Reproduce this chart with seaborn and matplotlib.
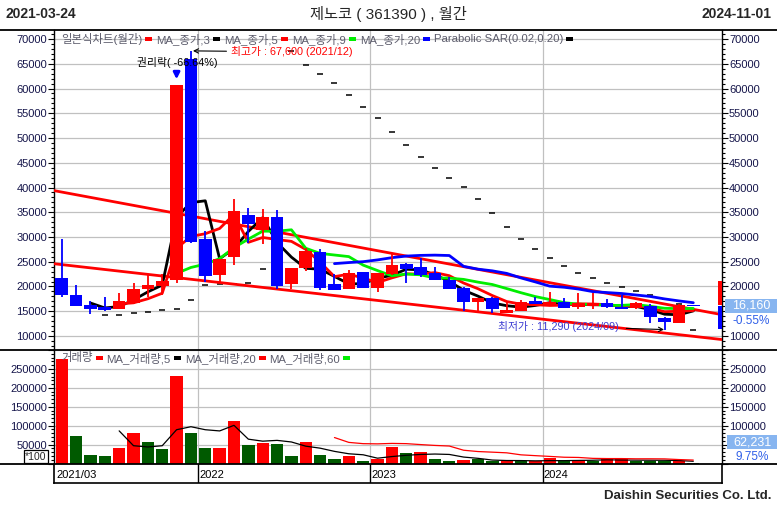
import numpy as np
import pandas as pd
import matplotlib
matplotlib.use("Agg")
import matplotlib.pyplot as plt
import matplotlib.ticker as mticker
from matplotlib.lines import Line2D
from matplotlib.patches import Rectangle
import seaborn as sns

W, H = 777, 508

# monthly candles 2021/03 .. 2024/11
months = [p.strftime("%Y/%m") for p in pd.period_range("2021-03", "2024-11", freq="M")]
opens = [21700, 18300, 16300, 15800, 15500, 16600, 19500, 20000, 21300, 65900,
         29500, 22300, 26000, 34450, 31400, 34100, 20450, 23800, 27050, 20450,
         19450, 22850, 19750, 22500, 24550, 23900, 22650, 21300, 19650, 16800,
         17600, 14700, 15100, 17050, 16150, 16950, 15800, 16000, 16600, 15950,
         15600, 16050, 13700, 12600, 16250]
highs = [29600, 20300, 17100, 17900, 18750, 20700, 22500, 22600, 60700, 67600,
         31200, 25600, 37700, 35900, 35650, 35450, 23700, 27850, 27500, 22450,
         23350, 22900, 22700, 26500, 24700, 25800, 24000, 21850, 19950, 17700,
         17950, 16800, 17250, 17950, 18900, 17600, 18600, 18600, 17400, 18300,
         16900, 16450, 13750, 16450, 16300]
lows = [17800, 16100, 14400, 15100, 15400, 16500, 17950, 18200, 20800, 28800,
        21000, 21000, 24300, 28700, 28600, 19400, 19400, 23150, 19300, 19250,
        19400, 19700, 18800, 22400, 20650, 22000, 21250, 19450, 15050, 15050,
        14600, 14650, 15050, 16400, 16000, 15700, 15400, 15400, 15600, 15400,
        15400, 12550, 11290, 12550, 16100]
closes = [18350, 16150, 15500, 15350, 17000, 19500, 20250, 21100, 60700, 29050,
          22200, 25550, 35250, 32550, 33950, 20150, 23700, 27150, 19650, 19300,
          22650, 19750, 22650, 24350, 23450, 22300, 21300, 19500, 16950, 17700,
          15400, 15250, 16800, 16450, 16950, 15700, 16600, 16600, 15800, 15550,
          16600, 13800, 12800, 16250, 16160]
sar = [np.nan, np.nan, np.nan, 14180, 14180, 14580, 14780, 15180, 15450, 17270,
       20300, 20450, 20550, 20640, 23470, 24900, 67600, 64750, 62930, 61170,
       58690, 56260, 53970, 51150, 48590, 46100, 43880, 41860, 40040, 37610,
       34790, 31960, 29560, 27520, 25700, 24140, 22670, 21660, 20650, 19840,
       19030, 18280, 17400, 16460, 11290]
volumes = [276500, 73200, 22000, 19400, 40600, 80300, 56500, 38200, 231400, 80300,
           40600, 40600, 112000, 48500, 53800, 51200, 19400, 56500, 22000, 11400,
           19400, 6100, 11400, 43500, 28100, 30800, 11400, 6100, 8750, 11400,
           7900, 5300, 5300, 5300, 14000, 7900, 7900, 7900, 11400, 10600,
           6900, 6900, 6900, 7900, 1000]
vol_dir = list("RGGGRRGGRGGRRGRGGRGGRGRRGRGGRGGRGRRGRGRRGGGRG")

# trend channel (value at left edge, value at right edge)
trend_x = [-0.54, 46.0]
trend_upper = [39370, 14310]
trend_lower = [24600, 9280]
range_red = [16300, 21100]
range_blue = [11400, 16100]

vol_last = 62231
vol_change_label = "9.75%"

RED = "#ff0000"
BLUE = "#0000ff"
GREEN = "#00ee00"
VGREEN = "#005a00"
GRID = "#c0c0c0"
TICKC = "#15154a"
LEG = "#5c5c6c"

df = pd.DataFrame(dict(month=months, open=opens, high=highs, low=lows,
                       close=closes, volume=volumes, sar=sar))
df["x"] = np.arange(len(df))
for n in (3, 5, 9, 20):
    df[f"ma{n}"] = df["close"].rolling(n).mean()
for n in (5, 20, 60):
    df[f"vma{n}"] = df["volume"].rolling(n).mean()

sns.set_theme(style="white")
plt.rcParams["font.family"] = ["Liberation Sans", "Noto Sans CJK KR", "DejaVu Sans"]
plt.rcParams["axes.unicode_minus"] = False


def fx(px):
    return px / W


def fy(py):
    return 1 - py / H


fig = plt.figure(figsize=(W / 100, H / 100), dpi=100)
fig.patch.set_facecolor("white")

L, R = 54, 722
ax_p = fig.add_axes([fx(L), fy(350), fx(R) - fx(L), fy(30) - fy(350)])
ax_v = fig.add_axes([fx(L), fy(463.5), fx(R) - fx(L), fy(350) - fy(463.5)], sharex=ax_p)
ax_d = fig.add_axes([fx(L), fy(483), fx(R) - fx(L), fy(463.5) - fy(483)], sharex=ax_p)

ax_p.set_xlim(-0.54, 46.0)
ax_p.set_ylim(7170, 71820)
ax_v.set_ylim(0, 300400)

year_starts = df.index[df["month"].str.endswith("/01")]
bounds = [i - 0.5 for i in year_starts]

# ---- price panel
for b in bounds:
    ax_p.axvline(b, color=GRID, lw=0.9, zorder=0)
    ax_v.axvline(b, color=GRID, lw=0.9, zorder=0)

up = df["close"] >= df["open"]
ccol = np.where(up, RED, BLUE)
sns.scatterplot(data=df, x="x", y="sar", marker="_", s=22, color="black",
                linewidth=1.1, ax=ax_p, zorder=2, legend=False)
ax_p.plot(trend_x, trend_upper, color=RED, lw=2.0, zorder=3)
ax_p.plot(trend_x, trend_lower, color=RED, lw=2.0, zorder=3)
for col, c in (("ma3", "black"), ("ma5", RED), ("ma9", GREEN), ("ma20", BLUE)):
    sns.lineplot(data=df, x="x", y=col, color=c, lw=2.0, ax=ax_p, zorder=3, legend=False)
ax_p.vlines(df["x"], df["low"], df["high"], colors=ccol, lw=1.3, zorder=5)
body_lo = np.minimum(df["open"], df["close"])
body_h = np.maximum((df["close"] - df["open"]).abs(), 120)
ax_p.bar(df["x"], body_h, bottom=body_lo, width=0.88, color=ccol, lw=0, zorder=5)

ax_p.bar([45.87], [range_red[1] - range_red[0]], bottom=range_red[0], width=0.26, color=RED, lw=0, zorder=6)
ax_p.bar([45.87], [range_blue[1] - range_blue[0]], bottom=range_blue[0], width=0.26, color=BLUE, lw=0, zorder=6)

ax_p.annotate("", xy=(8, 61300), xytext=(8, 64000),
              arrowprops=dict(arrowstyle="-|>", color=BLUE, lw=2, mutation_scale=9), zorder=7)
ax_p.text(8.05, 65350, "권리락( -66.64%)", fontsize=7.8, color="black",
          ha="center", va="center", zorder=7)
ax_p.annotate("최고가 : 67,600 (2021/12)", xy=(9.14, 67600), xytext=(11.8, 67400),
              fontsize=7.8, color=RED, ha="left", va="center", zorder=7,
              arrowprops=dict(arrowstyle="->", color="black", lw=0.8, shrinkA=1, shrinkB=0))
ax_p.annotate("최저가 : 11,290 (2024/09)", xy=(41.96, 11300), xytext=(30.4, 11950),
              fontsize=7.8, color="#3c3cd2", ha="left", va="center", zorder=7,
              arrowprops=dict(arrowstyle="->", color="black", lw=0.8, shrinkA=3, shrinkB=0))

# ---- volume panel
vcol = [RED if d == "R" else VGREEN for d in vol_dir]
ax_v.bar(df["x"], df["volume"], width=0.86, color=vcol, lw=0, zorder=3)
sns.lineplot(data=df, x="x", y="vma5", color="black", lw=0.9, ax=ax_v, zorder=4, legend=False)
sns.lineplot(data=df, x="x", y="vma20", color=RED, lw=0.9, ax=ax_v, zorder=4, legend=False)

# ---- value boxes on the right axis: centre pixel heights
chg = (closes[-1] - closes[-2]) / closes[-2] * 100
yp = ax_p.transData.transform((0, closes[-1]))[1]
yv = ax_v.transData.transform((0, vol_last))[1] - 2.5


def covered(ax, yc):
    # hide the right-hand labels that the value box sits on top of
    def f(v, p):
        yy = ax.transData.transform((0, v))[1]
        return "" if yc - 27 < yy < yc + 12 else None
    return f


# ---- axes styling
for ax, major, minor, yc in ((ax_p, 5000, 1000, yp), (ax_v, 50000, 10000, yv)):
    ax.set_xlabel("")
    ax.set_ylabel("")
    ax.set_facecolor("white")
    ax.grid(axis="y", which="major", color=GRID, lw=0.9, zorder=0)
    ax.set_axisbelow(True)
    ax.tick_params(axis="x", bottom=False, labelbottom=False)
    for s in ("top", "bottom"):
        ax.spines[s].set_visible(False)
    for s in ("left", "right"):
        ax.spines[s].set_color("black")
        ax.spines[s].set_linewidth(1.0)
    tw = ax.twinx()
    tw.set_ylim(ax.get_ylim())
    tw.patch.set_visible(False)
    for s in tw.spines.values():
        s.set_visible(False)
    tw.grid(False)
    base = (lambda v: f"{int(v)}") if ax is ax_p else \
        (lambda v: "" if v <= 0 or v >= 300000 else f"{int(v)}")
    hide = covered(ax, yc)
    for a, fmt in ((ax, lambda v, p, b=base: b(v)),
                   (tw, lambda v, p, b=base, h=hide: "" if h(v, p) == "" else b(v))):
        a.yaxis.set_major_locator(mticker.MultipleLocator(major))
        a.yaxis.set_minor_locator(mticker.MultipleLocator(minor))
        a.yaxis.set_major_formatter(mticker.FuncFormatter(fmt))
        a.tick_params(axis="y", which="both", direction="out", color="black",
                      labelcolor=TICKC, labelsize=8, pad=1, width=0.8)
        a.tick_params(axis="y", which="major", length=4)
        a.tick_params(axis="y", which="minor", length=2)
    ax.tick_params(axis="y", which="both", left=True, right=False, labelleft=True, labelright=False)
    tw.tick_params(axis="y", which="both", left=False, right=True, labelleft=False, labelright=True)

# ---- date panel
ax_d.set_ylim(0, 1)
ax_d.set_yticks([])
ax_d.tick_params(axis="x", bottom=False, labelbottom=False)
ax_d.spines["top"].set_visible(False)
for s in ("left", "bottom", "right"):
    ax_d.spines[s].set_color("black")
    ax_d.spines[s].set_linewidth(1.2)
ax_d.text(-0.4, 0.42, months[0], fontsize=8, color="black", ha="left", va="center")
for b in bounds:
    ax_d.axvline(b, color="black", lw=1.0)
    ax_d.text(b + 0.07, 0.42, months[int(b + 0.5)][:4], fontsize=8, color="black",
              ha="left", va="center")

# ---- frame lines
for yy in (30, 350, 463.5):
    fig.add_artist(Line2D([0, 1], [fy(yy), fy(yy)], color="black", lw=1.3,
                          transform=fig.transFigure))

# ---- header / footer
fig.text(fx(5), fy(14), "2021-03-24", fontsize=10, weight="bold", ha="left", va="center")
fig.text(fx(772), fy(14), "2024-11-01", fontsize=10, weight="bold", ha="right", va="center")
fig.text(fx(388), fy(14), "제노코 ( 361390 ) , 월간", fontsize=11, ha="center", va="center")
fig.text(fx(772), fy(496), "Daishin Securities Co. Ltd.", fontsize=9.5, weight="bold",
         ha="right", va="center")
fig.text(fx(36), fy(456.5), "*100", fontsize=7.5, ha="center", va="center",
         bbox=dict(boxstyle="square,pad=0.12", fc="white", ec="black", lw=0.9))


def value_box(yc, label, pct, x0):
    fig.add_artist(Rectangle((fx(x0), (yc - 7) / H), (W - x0) / W, 14 / H,
                             transform=fig.transFigure, fc="#87b5f0", ec="none", zorder=5))
    fig.text(fx((x0 + W) / 2), yc / H, label, fontsize=9, color="white",
             ha="center", va="center", zorder=6)
    fig.text(fx((x0 + W) / 2), (yc - 15) / H, pct, fontsize=8.5, color="#2f5fe8",
             ha="center", va="center", zorder=6)


value_box(yp, f"{closes[-1]:,}", f"{chg:.2f}%", 725)
value_box(yv, f"{vol_last:,}", vol_change_label, 727)

# ---- legends
price_legend = [("일본식차트(월간)", RED), ("MA_종가,3", "black"), ("MA_종가,5", RED),
                ("MA_종가,9", GREEN), ("MA_종가,20", BLUE),
                ("Parabolic SAR(0.02,0.20)", "black")]
vol_legend = [("거래량", RED), ("MA_거래량,5", "black"), ("MA_거래량,20", RED),
              ("MA_거래량,60", GREEN)]

renderer = fig.canvas.get_renderer()


def legend_row(items, x, y):
    for label, color in items:
        t = fig.text(fx(x), fy(y), label, fontsize=8.2, color=LEG, ha="left", va="center")
        bb = t.get_window_extent(renderer)
        x = bb.x1 + 3
        fig.add_artist(Rectangle((fx(x), fy(y + 2)), 7 / W, 4 / H,
                                 transform=fig.transFigure, color=color, lw=0))
        x += 11


legend_row(price_legend, 61, 39)
legend_row(vol_legend, 61, 358)

fig.savefig("out.png", dpi=100)
